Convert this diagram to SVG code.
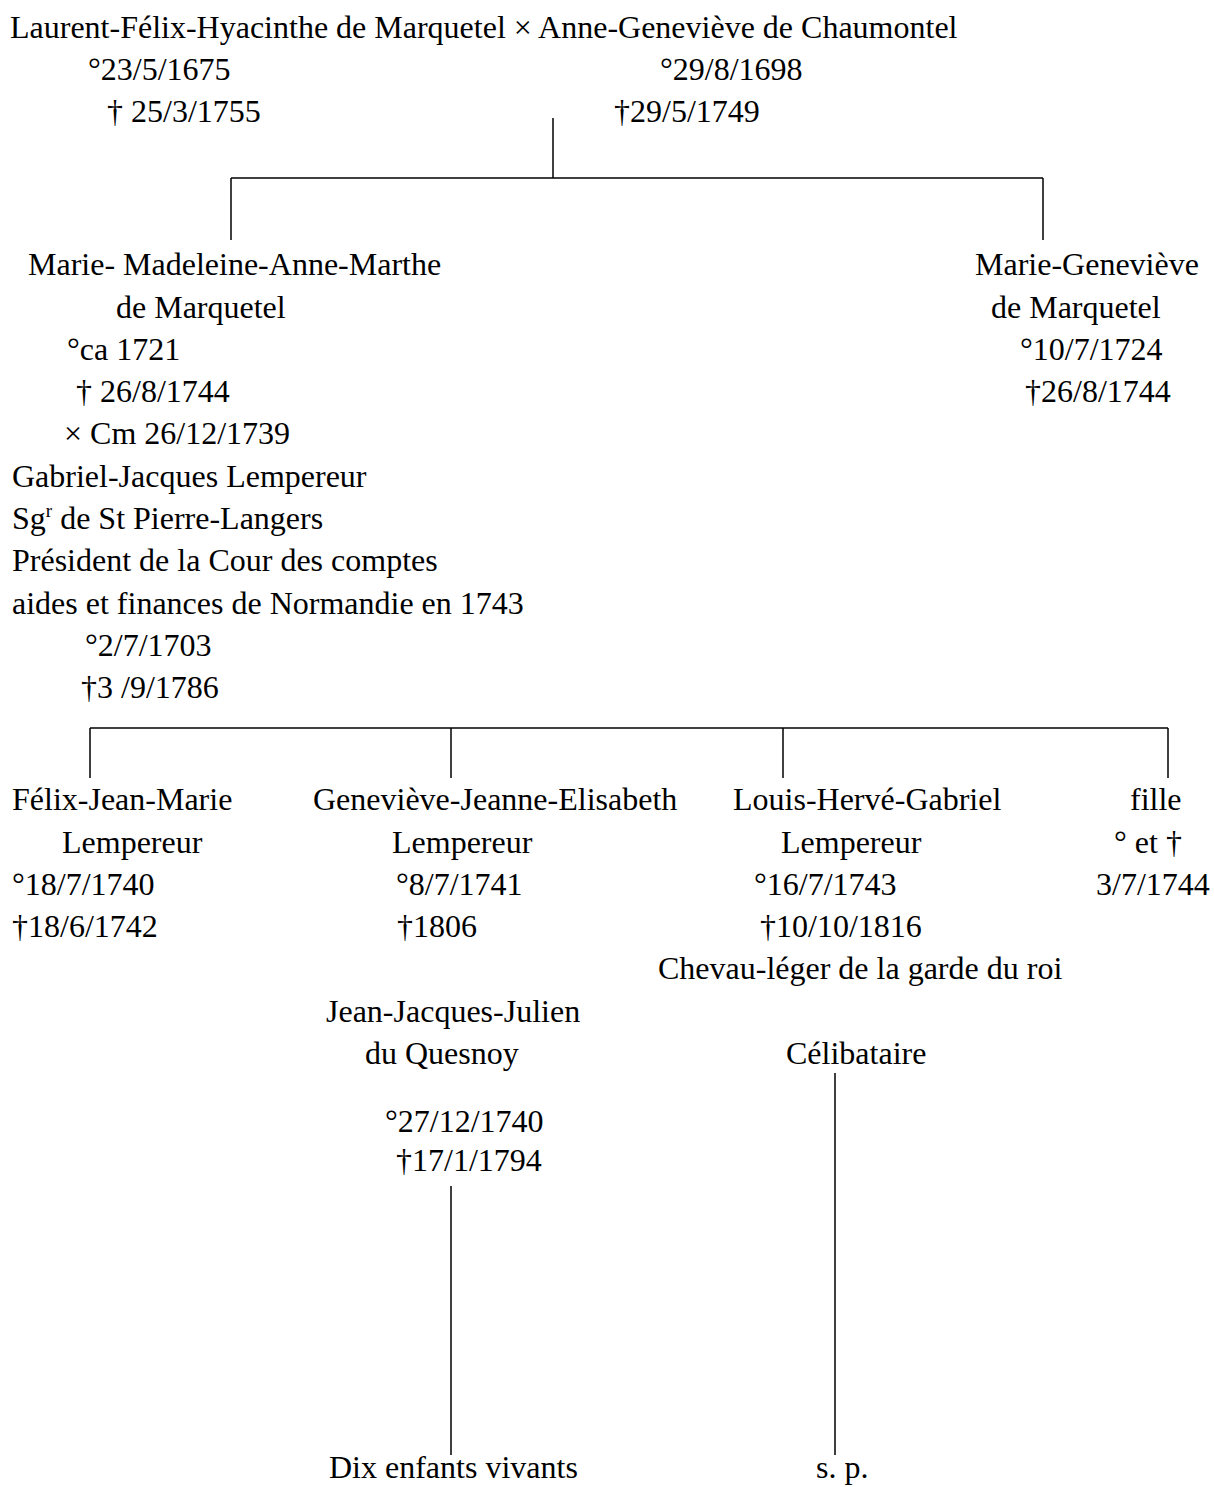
<svg xmlns="http://www.w3.org/2000/svg" width="1214" height="1487" viewBox="0 0 1214 1487">
<style>
text{font-family:"Liberation Serif","Times New Roman",serif;font-size:32px;fill:#000}
line{stroke:#000;stroke-width:1.5}
</style>
<rect width="1214" height="1487" fill="#fff"/>
<g id="connectors">
<line x1="553" y1="118" x2="553" y2="178"/>
<line x1="231" y1="178" x2="1043" y2="178"/>
<line x1="231" y1="178" x2="231" y2="240"/>
<line x1="1043" y1="178" x2="1043" y2="240"/>
<line x1="90" y1="728" x2="1168" y2="728"/>
<line x1="90" y1="728" x2="90" y2="778"/>
<line x1="451" y1="728" x2="451" y2="778"/>
<line x1="783" y1="728" x2="783" y2="778"/>
<line x1="1168" y1="728" x2="1168" y2="778"/>
<line x1="451" y1="1186" x2="451" y2="1455"/>
<line x1="835" y1="1073" x2="835" y2="1455"/>
</g>
<g id="parents">
<text x="10" y="38">Laurent-Félix-Hyacinthe de Marquetel × Anne-Geneviève de Chaumontel</text>
<text x="88" y="80">°23/5/1675</text>
<text x="107" y="122">† 25/3/1755</text>
<text x="660" y="80">°29/8/1698</text>
<text x="614" y="122">†29/5/1749</text>
</g>
<g id="marie-madeleine">
<text x="28" y="275">Marie- Madeleine-Anne-Marthe</text>
<text x="116" y="318">de Marquetel</text>
<text x="67" y="360">°ca 1721</text>
<text x="76" y="402">† 26/8/1744</text>
<text x="64" y="444">× Cm 26/12/1739</text>
<text x="12" y="487">Gabriel-Jacques Lempereur</text>
<text x="12" y="529">Sg<tspan font-size="19" dy="-12">r</tspan><tspan dy="12"> de St Pierre-Langers</tspan></text>
<text x="12" y="571">Président de la Cour des comptes</text>
<text x="12" y="614">aides et finances de Normandie en 1743</text>
<text x="85" y="656">°2/7/1703</text>
<text x="81" y="698">†3 /9/1786</text>
</g>
<g id="marie-genevieve">
<text x="975" y="275">Marie-Geneviève</text>
<text x="991" y="318">de Marquetel</text>
<text x="1020" y="360">°10/7/1724</text>
<text x="1025" y="402">†26/8/1744</text>
</g>
<g id="felix">
<text x="12" y="810">Félix-Jean-Marie</text>
<text x="62" y="853">Lempereur</text>
<text x="12" y="895">°18/7/1740</text>
<text x="12" y="937">†18/6/1742</text>
</g>
<g id="genevieve-jeanne">
<text x="313" y="810">Geneviève-Jeanne-Elisabeth</text>
<text x="392" y="853">Lempereur</text>
<text x="396" y="895">°8/7/1741</text>
<text x="397" y="937">†1806</text>
</g>
<g id="louis">
<text x="733" y="810">Louis-Hervé-Gabriel</text>
<text x="781" y="853">Lempereur</text>
<text x="754" y="895">°16/7/1743</text>
<text x="760" y="937">†10/10/1816</text>
<text x="658" y="979">Chevau-léger de la garde du roi</text>
</g>
<g id="fille">
<text x="1130" y="810">fille</text>
<text x="1114" y="853">° et †</text>
<text x="1096" y="895">3/7/1744</text>
</g>
<g id="jean-jacques">
<text x="326" y="1022">Jean-Jacques-Julien</text>
<text x="365" y="1064">du Quesnoy</text>
<text x="385" y="1132">°27/12/1740</text>
<text x="396" y="1171">†17/1/1794</text>
</g>
<g id="celibataire">
<text x="786" y="1064">Célibataire</text>
</g>
<g id="dix-enfants">
<text x="329" y="1478">Dix enfants vivants</text>
</g>
<g id="sp">
<text x="816" y="1478">s. p.</text>
</g>
</svg>
